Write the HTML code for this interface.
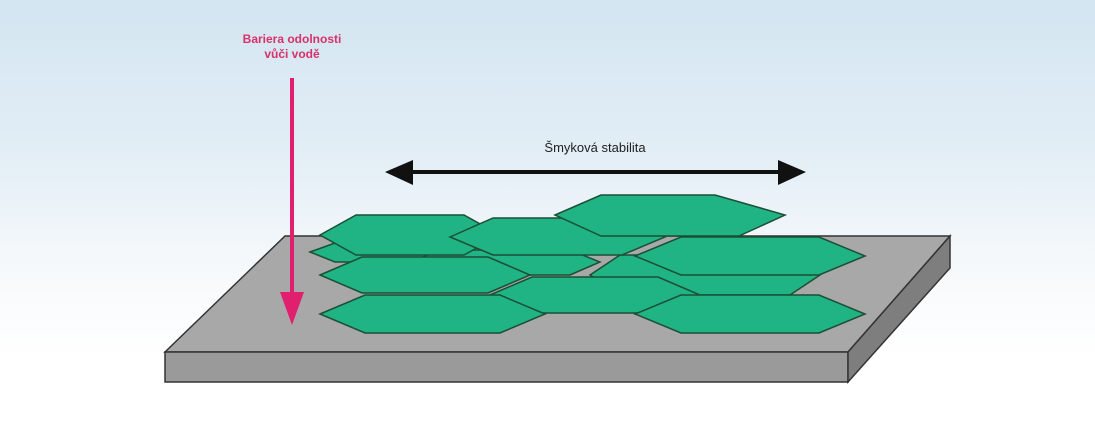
<!DOCTYPE html>
<html><head><meta charset="utf-8"><style>
html,body{margin:0;padding:0;width:1095px;height:445px;background:#ffffff;}
body{overflow:hidden;background:linear-gradient(#d3e5f1 0%,#e3eef6 35%,#f6f9fb 60%,#ffffff 80%);}
svg{display:block;}
</style></head><body>
<svg width="1095" height="445" viewBox="0 0 1095 445" xmlns="http://www.w3.org/2000/svg">
<polygon points="285,236 950,236 848,352 165,352" fill="#a8a8a8" stroke="#333" stroke-width="1.5"/>
<polygon points="165,352 848,352 848,382 165,382" fill="#9a9a9a" stroke="#333" stroke-width="1.5"/>
<polygon points="848,352 950,236 950,268 848,382" fill="#7e7e7e" stroke="#333" stroke-width="1.5"/>
<g fill="#20b383" stroke="#1b4f36" stroke-width="1.5">
<polygon points="310,252 335,243 420,243 440,252 420,262 335,262"/>
<polygon points="590,275 620,255 790,255 820,275 790,295 620,295"/>
<polygon points="410,262 440,250 570,250 600,262 570,275 440,275"/>
<polygon points="320,235 356,215 464,215 500,235 464,255 356,255"/>
<polygon points="450,237 493,218 622,218 665,237 622,255 493,255"/>
<polygon points="555,215 601,195 715,195 785,215 739,236 601,236"/>
<polygon points="635,256 681,237 819,237 865,256 819,275 681,275"/>
<polygon points="320,275 362,257 488,257 530,275 488,293 362,293"/>
<polygon points="490,295 532,277 658,277 700,295 658,313 532,313"/>
<polygon points="320,314 365,295 500,295 545,314 500,333 365,333"/>
<polygon points="635,314 681,295 819,295 865,314 819,333 681,333"/>
</g>
<line x1="292" y1="78" x2="292" y2="300" stroke="#e0206e" stroke-width="4"/>
<polygon points="280,292 304,292 292,325" fill="#e0206e"/>
<text x="292" y="43" font-family="Liberation Sans, sans-serif" font-size="12" font-weight="bold" fill="#d8306a" text-anchor="middle">Bariera odolnosti</text>
<text x="292" y="58" font-family="Liberation Sans, sans-serif" font-size="12" font-weight="bold" fill="#d8306a" text-anchor="middle">vůči vodě</text>
<line x1="400" y1="172" x2="790" y2="172" stroke="#111" stroke-width="4"/>
<polygon points="385,172 413,160 413,185" fill="#111"/>
<polygon points="806,172 778,160 778,185" fill="#111"/>
<text x="595" y="152" font-family="Liberation Sans, sans-serif" font-size="13" fill="#222" text-anchor="middle">Šmyková stabilita</text>
</svg>
</body></html>
